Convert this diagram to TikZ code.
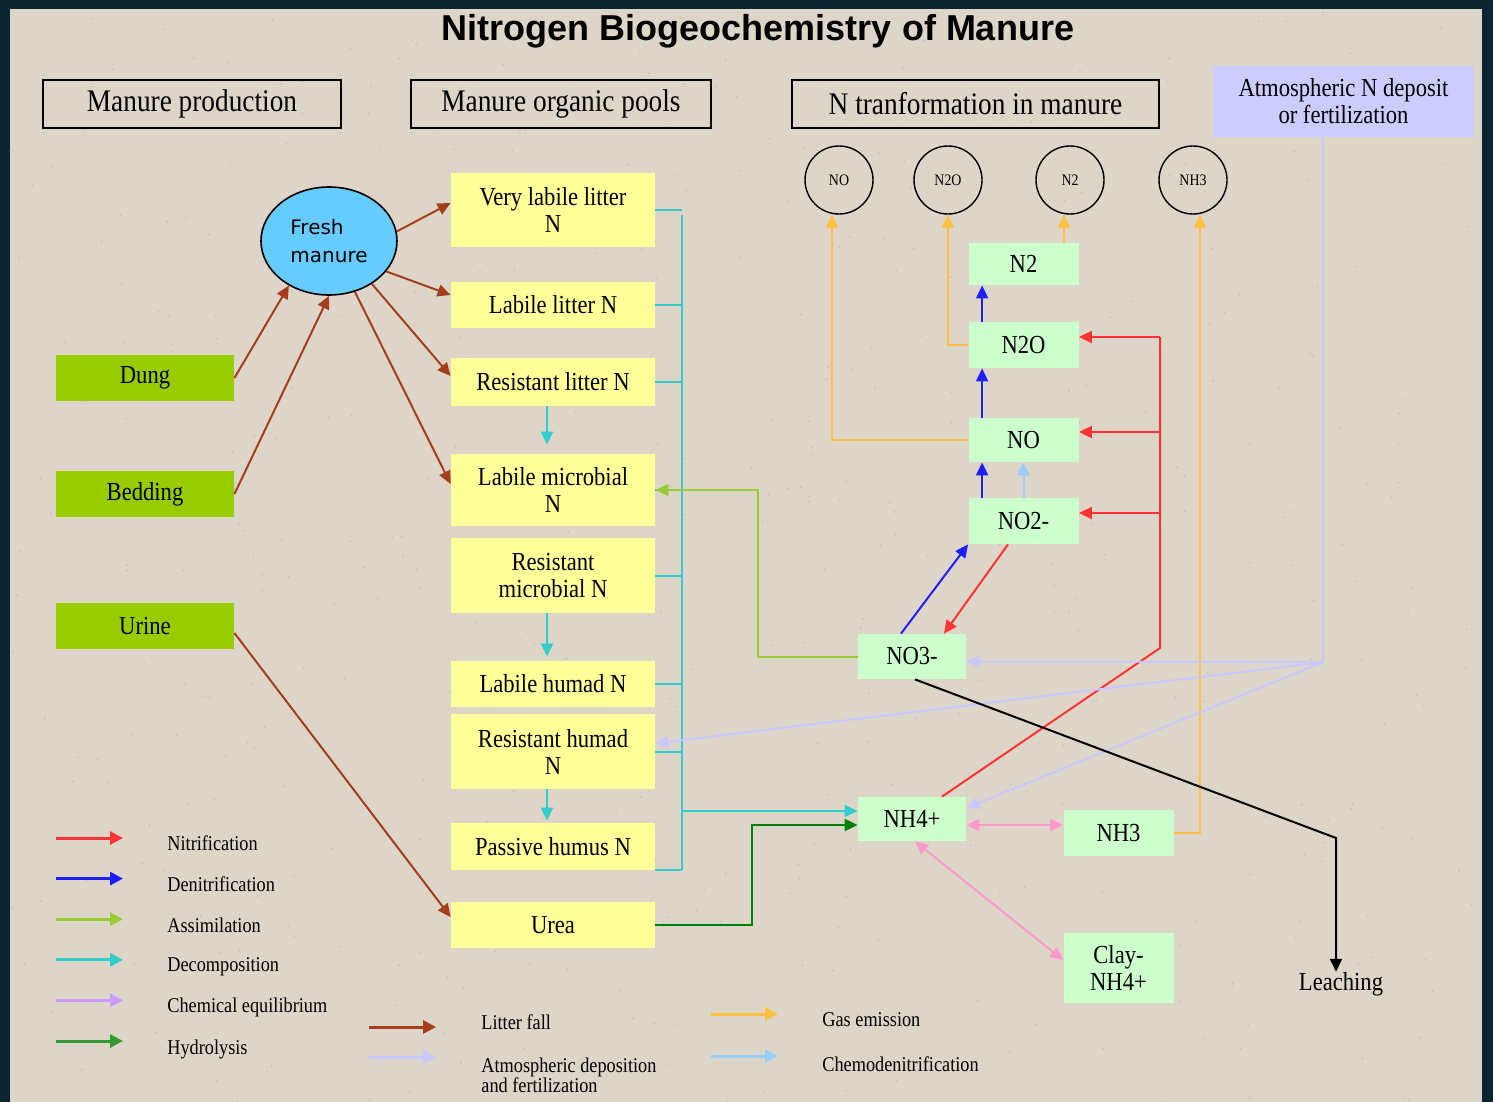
\documentclass[tikz,border=0pt]{standalone}
\usepackage{fontspec}
\setmainfont[FakeStretch=0.87]{Liberation Serif}
\newfontfamily\titlefont{Liberation Sans}
\newfontfamily\fmfont{DejaVu Sans}
\usetikzlibrary{arrows.meta, shapes.geometric}

\definecolor{bgc}{RGB}{221,213,199}
\definecolor{edgec}{RGB}{10,36,48}
\definecolor{srcc}{RGB}{153,204,0}
\definecolor{poolc}{RGB}{255,255,153}
\definecolor{minc}{RGB}{204,255,204}
\definecolor{atmc}{RGB}{204,204,255}
\definecolor{fmc}{RGB}{102,204,255}
\definecolor{litc}{RGB}{165,62,28}
\definecolor{nitc}{RGB}{255,51,51}
\definecolor{denc}{RGB}{30,30,255}
\definecolor{assc}{RGB}{153,204,51}
\definecolor{decc}{RGB}{51,204,204}
\definecolor{eqlc}{RGB}{204,153,255}
\definecolor{eqc}{RGB}{255,153,204}
\definecolor{hydc}{RGB}{0,128,0}
\definecolor{hydlc}{RGB}{51,153,51}
\definecolor{gasc}{RGB}{255,192,64}
\definecolor{chdc}{RGB}{153,204,255}
\definecolor{atlc}{RGB}{200,200,255}

\tikzset{
  hdr/.style    = {draw, line width=0.8pt, minimum height=24pt, inner sep=0pt,
                   font=\fontsize{15.7}{16}\selectfont},
  src/.style    = {fill=srcc, minimum width=89pt, minimum height=23pt, inner sep=0pt,
                   font=\fontsize{13}{13.5}\selectfont},
  pool/.style   = {fill=poolc, align=center, minimum width=102pt, inner sep=0pt,
                   font=\fontsize{13}{13.5}\selectfont},
  mn/.style     = {fill=minc, align=center, minimum width=55pt, inner sep=0pt,
                   font=\fontsize{13}{13.5}\selectfont},
  gas/.style    = {circle, draw, line width=0.7pt, minimum size=34pt, inner sep=0pt,
                   font=\fontsize{8}{8}\selectfont},
  legtxt/.style = {anchor=west, inner sep=0pt, align=left,
                   font=\fontsize{10.5}{10}\selectfont},
  fl/.style     = {-{Triangle[length=6.5pt, width=6pt]}, line width=1pt},
  dfl/.style    = {{Triangle[length=6.5pt, width=6pt]}-{Triangle[length=6.5pt, width=6pt]}, line width=1pt},
  lg/.style     = {-{Triangle[length=6.5pt, width=6.5pt]}, line width=1.5pt},
}

\begin{document}
\begin{tikzpicture}[x=0.5pt, y=-0.5pt]
    \useasboundingbox (0,0) rectangle (1493,1102);
    \fill[edgec] (0,0) rectangle (1493,1102);
    \fill[bgc] (10,9) rectangle (1482,1102);
    % speckles
    \pgfmathsetseed{7}
    \foreach \k in {1,...,500}
      \fill[bgc!75!black, opacity=0.45] ({10+1472*rnd},{9+1093*rnd}) circle (0.45pt);

    \node[font=\titlefont\bfseries\fontsize{18}{20}\selectfont] (title) at (758,31)
      {Nitrogen Biogeochemistry of Manure};

    % column headers
    \node[hdr, minimum width=149pt] (mp) at (192,104) {Manure production};
    \node[hdr, minimum width=150pt] (mop) at (561,104) {Manure organic pools};
    \node[hdr, minimum width=183.5pt] (ntm) at (975.5,104) {N tranformation in manure};
    \node[fill=atmc, align=center, minimum width=130.5pt, minimum height=35.5pt, inner sep=0pt,
          font=\fontsize{13}{13.5}\selectfont] (atm) at (1343.5,101.5)
      {Atmospheric N deposit\\or fertilization};

    % manure production
    \node[ellipse, draw, line width=0.8pt, fill=fmc, minimum width=68pt, minimum height=54pt,
          inner sep=0pt, align=left, font=\fmfont\fontsize{10}{14}\selectfont] (fm) at (329,241)
      {Fresh\\manure};
    \node[src] (dung) at (145,378) {Dung};
    \node[src] (bed) at (145,494) {Bedding};
    \node[src] (urine) at (145,626) {Urine};

    % organic pools
    \node[pool, minimum height=37pt] (vl) at (553,210) {Very labile litter\\N};
    \node[pool, minimum height=23pt] (ll) at (553,305) {Labile litter N};
    \node[pool, minimum height=24pt] (rl) at (553,382) {Resistant litter N};
    \node[pool, minimum height=36pt] (lm) at (553,490) {Labile microbial\\N};
    \node[pool, minimum height=37.5pt] (rm) at (553,575.5) {Resistant\\microbial N};
    \node[pool, minimum height=23pt] (lh) at (553,684) {Labile humad N};
    \node[pool, minimum height=37.5pt] (rh) at (553,751.5) {Resistant humad\\N};
    \node[pool, minimum height=23.5pt] (ph) at (553,846.5) {Passive humus N};
    \node[pool, minimum height=23pt] (urea) at (553,925) {Urea};

    % mineral N
    \node[mn, minimum height=21pt] (n2) at (1023.5,264) {N2};
    \node[mn, minimum height=23pt] (n2o) at (1023.5,345) {N2O};
    \node[mn, minimum height=22pt] (no) at (1023.5,440) {NO};
    \node[mn, minimum height=23pt] (no2) at (1023.5,521) {NO2-};
    \node[mn, minimum width=54pt, minimum height=22.5pt] (no3) at (912,656.5) {NO3-};
    \node[mn, minimum width=54pt, minimum height=22pt] (nh4) at (912,819) {NH4+};
    \node[mn, minimum height=23pt] (nh3) at (1118.5,833) {NH3};
    \node[mn, minimum height=35pt] (clay) at (1118.5,968) {Clay-\\NH4+};
    \node[inner sep=0pt, font=\fontsize{13}{13.5}\selectfont] (leach) at (1341,984) {Leaching};

    % gases
    \node[gas] (gno) at (839,180) {NO};
    \node[gas] (gn2o) at (948,180) {N2O};
    \node[gas] (gn2) at (1070,180) {N2};
    \node[gas] (gnh3) at (1193,180) {NH3};

    % litter fall
    \draw[fl, litc] (dung.east) -- (fm.-132);
    \draw[fl, litc] (bed.east) -- (fm.-90);
    \draw[fl, litc] (fm.8) -- ([yshift=3.5pt]vl.west);
    \draw[fl, litc] (fm.-28) -- ([yshift=5pt]ll.west);
    \draw[fl, litc] (fm.-45) -- ([yshift=3pt]rl.west);
    \draw[fl, litc] (fm.-63) -- ([yshift=3pt]lm.west);
    \draw[fl, litc] ([yshift=-3.5pt]urine.east) -- ([yshift=4pt]urea.west);

    % decomposition
    \coordinate (bus) at (682,215);
    \draw[decc, line width=1pt] (bus) -- (bus |- ph.south);
    \foreach \n in {vl,ll,rl,lm,rm,lh,rh}
      \draw[decc, line width=1pt] (\n.east) -- (\n.east -| bus);
    \draw[decc, line width=1pt] (ph.south east) -- (ph.south -| bus);
    \draw[fl, decc] ([yshift=4pt]nh4.west -| bus) -- ([yshift=4pt]nh4.west);
    \draw[fl, decc, shorten >=4.5pt] ([xshift=-3pt]rl.south) -- ([xshift=-3pt]lm.north);
    \draw[fl, decc, shorten >=2pt] ([xshift=-3pt]rm.south) -- ([xshift=-3pt]lh.north);
    \draw[fl, decc, shorten >=1pt] ([xshift=-3pt]rh.south) -- ([xshift=-3pt]ph.north);

    % gas emission
    \draw[fl, gasc] (no.west) -| ([xshift=-3.5pt]gno.south);
    \draw[fl, gasc] (n2o.west) -| (gn2o.south);
    \draw[fl, gasc] ([xshift=-3pt]gn2.south |- n2.north) -- ([xshift=-3pt]gn2.south);
    \draw[fl, gasc] (nh3.east) -| ([xshift=3.5pt]gnh3.south);

    % denitrification
    \draw[fl, denc] ([xshift=7pt]n2o.north west) -- ([xshift=7pt]n2.south west);
    \draw[fl, denc] ([xshift=7pt]no.north west) -- ([xshift=7pt]n2o.south west);
    \draw[fl, denc] ([xshift=7pt]no2.north west) -- ([xshift=7pt]no.south west);
    \draw[fl, denc] ([xshift=-5.5pt]no3.north) -- (no2.south west);
    \draw[fl, chdc] (no2.north) -- (no.south);

    % nitrification
    \draw[fl, nitc] ([xshift=-7.75pt]no2.south) -- ([xshift=16pt]no3.north);
    \coordinate (rb) at (1160,648);
    \coordinate (rt) at (1160,337);
    \draw[nitc, line width=1pt] ([xshift=15pt]nh4.north) -- (rb) -- (rt);
    \draw[fl, nitc] (rt) -- (rt -| n2o.east);
    \draw[fl, nitc] ([yshift=4pt]no.east -| rb) -- ([yshift=4pt]no.east);
    \draw[fl, nitc] ([yshift=4pt]no2.east -| rb) -- ([yshift=4pt]no2.east);

    % assimilation, hydrolysis
    \draw[fl, assc] (no3.west) -- ++(-100,0) |- (lm.east);
    \draw[fl, hydc] (urea.east) -- ++(97,0) |- ([yshift=-3pt]nh4.west);

    % chemical equilibrium
    \draw[dfl, eqc] ([yshift=4pt]nh3.west -| nh4.east) -- ([yshift=4pt]nh3.west);
    \draw[dfl, eqc] ([xshift=1.5pt]nh4.south) -- ([yshift=4pt]clay.west);

    % atmospheric deposition
    \coordinate (aj) at (1323,662);
    \draw[atlc, line width=1pt] (aj |- atm.south) -- (aj);
    \draw[fl, atlc] (aj) -- ([yshift=-2.5pt]no3.east);
    \draw[fl, atlc] (aj) -- ([yshift=4pt]rh.east);
    \draw[fl, atlc] (aj) -- ([yshift=5.5pt]nh4.east);

    % leaching
    \coordinate (lk) at (1336,838);
    \draw[fl, black] ([xshift=1.5pt]no3.south) -- (lk) -- (lk |- leach.north);

    % legend
    \foreach \c/\t [count=\i from 0] in {nitc/Nitrification, denc/Denitrification,
        assc/Assimilation, decc/Decomposition, eqlc/Chemical equilibrium, hydlc/Hydrolysis} {
      \coordinate (la\i) at (56,{838+40.6*\i});
      \draw[lg, \c] (la\i) -- ++(67,0);
      \node[legtxt] (lt\i) at (167,{843+41.2*\i}) {\t};
    }
    \coordinate (lb0) at (369,1027);
    \coordinate (lb1) at (369,1057);
    \draw[lg, litc] (lb0) -- ++(67,0);
    \draw[lg, atlc] (lb1) -- ++(67,0);
    \node[legtxt] (lu0) at (481,1022) {Litter fall};
    \node[legtxt] (lu1) at (481,1075) {Atmospheric deposition\\and fertilization};
    \coordinate (lc0) at (711,1014);
    \coordinate (lc1) at (711,1056);
    \draw[lg, gasc] (lc0) -- ++(67,0);
    \draw[lg, chdc] (lc1) -- ++(67,0);
    \node[legtxt] (lv0) at (822,1020) {Gas emission};
    \node[legtxt] (lv1) at (822,1064) {Chemodenitrification};
  \end{tikzpicture}
\end{document}
